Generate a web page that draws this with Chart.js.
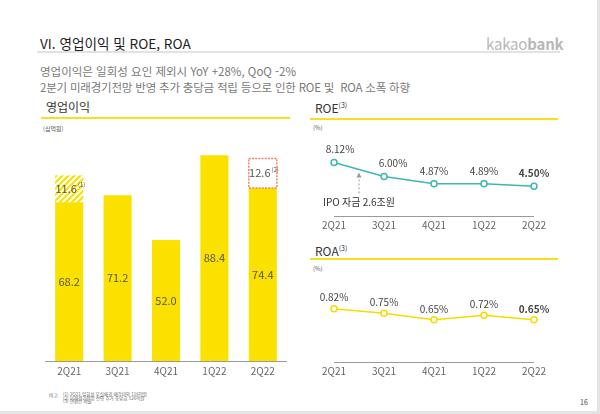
<!DOCTYPE html>
<html lang="ko">
<head>
<meta charset="utf-8">
<script src="https://cdn.jsdelivr.net/npm/chart.js@4"></script>
<style>
  body { margin: 0; background: #fff; font-family: "Noto Sans CJK KR", "Noto Sans", sans-serif; }
  #page { position: relative; width: 597px; height: 411px; border-right: 3px solid #e4e4e4; border-bottom: 3px solid #e4e4e4; overflow: hidden; }
  .abs { position: absolute; white-space: nowrap; }
  .title { left: 40px; top: 33px; font-size: 13.6px; color: #222; }
  .brand { left: 486px; top: 33px; font-size: 15px; color: #b8b8b8; letter-spacing: -0.2px; }
  .rule { position: absolute; height: 2px; }
  .sub { left: 40px; font-size: 11.5px; color: #7a7a7a; }
  .head { font-size: 12px; color: #333; }
  .head sup { font-size: 7px; }
  .unit { font-size: 6px; color: #555; }
  .box { position: absolute; }
  .box canvas { display: block; }
  .note { font-size: 4.5px; color: #666; line-height: 3.6px; }
</style>
</head>
<body>
<div id="page">
  <div class="abs title">VI. 영업이익 및 ROE, ROA</div>
  <div class="abs brand">kakao<b>bank</b></div>
  <div class="rule" style="left:37px; top:51px; width:523px; background:#e2e2e2;"></div>
  <div class="abs sub" style="top:63px;">영업이익은 일회성 요인 제외시 YoY +28%, QoQ -2%</div>
  <div class="abs sub" style="top:79px; letter-spacing:-0.2px;">2분기 미래경기전망 반영 추가 충당금 적립 등으로 인한 ROE 및&nbsp; ROA 소폭 하향</div>

  <div class="abs head" style="left:46px; top:98px;">영업이익</div>
  <div class="rule" style="left:41px; top:117px; width:249px; background:#f7df1e;"></div>
  <div class="abs unit" style="left:43px; top:124px;">(십억원)</div>
  <div class="box" style="left:45px; top:130px; width:242px; height:250px;"><canvas id="barChart"></canvas></div>

  <div class="abs head" style="left:315px; top:99px;">ROE<sup>(3)</sup></div>
  <div class="rule" style="left:310px; top:118px; width:248px; background:#f7df1e;"></div>
  <div class="abs unit" style="left:313px; top:123px;">(%)</div>
  <div class="box" style="left:319px; top:140px; width:230px; height:95px;"><canvas id="roeChart"></canvas></div>

  <div class="abs head" style="left:315px; top:242px;">ROA<sup>(3)</sup></div>
  <div class="rule" style="left:310px; top:258px; width:248px; background:#f7df1e;"></div>
  <div class="abs unit" style="left:313px; top:264px;">(%)</div>
  <div class="box" style="left:319px; top:274px; width:230px; height:107px;"><canvas id="roaChart"></canvas></div>

  <div class="abs note" style="left:49px; top:394px;">비고:</div>
  <div class="abs note" style="left:63px; top:393px;">(1) 2Q21 일회성 부실채권 매각이익 116억원<br>(2) 미래경기전망 반영 추가 충당금 126억원<br>(3) 연환산 비율</div>
  <div class="abs" style="left:580px; top:397px; font-size:7px; color:#444;">16</div>
</div>

<script>
const quarters = ["2Q21", "3Q21", "4Q21", "1Q22", "2Q22"];
const opIncome = [68.2, 71.2, 52.0, 88.4, 74.4];
const oneOff = [11.6, null, null, null, 12.6];
const oneOffNotes = ["(1)", null, null, null, "(2)"];
const roe = [8.12, 6.00, 4.87, 4.89, 4.50];
const roa = [0.82, 0.75, 0.65, 0.72, 0.65];

const YELLOW = "#fae100";
const FONT = '"Noto Sans CJK KR", "Noto Sans", sans-serif';

Chart.defaults.font.family = FONT;
Chart.defaults.animation = false;

function hatch() {
  const c = document.createElement("canvas");
  c.width = 6;
  c.height = 6;
  const g = c.getContext("2d");
  g.fillStyle = YELLOW;
  g.fillRect(0, 0, 6, 6);
  g.strokeStyle = "#fff";
  g.lineWidth = 2;
  g.beginPath();
  g.moveTo(0, 6); g.lineTo(6, 0);
  g.moveTo(-3, 3); g.lineTo(3, -3);
  g.moveTo(3, 9); g.lineTo(9, 3);
  g.stroke();
  return g.createPattern(c, "repeat");
}

// x axis: no ticks, grey baseline, fixed height
const xAxis = (pad) => ({
  grid: { display: false, drawTicks: false },
  border: { display: true, color: "#9a9a9a", width: 1 },
  ticks: { color: "#666", font: { size: 10 }, padding: pad },
  afterFit: (s) => { s.height = 19; },
});

// labels inside the bar segments
const barLabels = {
  id: "barLabels",
  afterDatasetsDraw(chart) {
    const ctx = chart.ctx;
    ctx.save();
    ctx.textAlign = "center";
    ctx.textBaseline = "middle";
    chart.data.datasets.forEach((ds, i) => {
      chart.getDatasetMeta(i).data.forEach((el, j) => {
        const v = ds.data[j];
        if (v == null) return;
        const cy = (el.y + el.base) / 2;
        if (i === 1 && j === 4) {
          ctx.save();
          ctx.strokeStyle = "#f08468";
          ctx.lineWidth = 1.5;
          ctx.setLineDash([2, 1.2]);
          ctx.strokeRect(el.x - el.width / 2, el.y, el.width, el.base - el.y);
          ctx.restore();
        }
        ctx.fillStyle = "#555";
        ctx.font = "11px " + FONT;
        const txt = v.toFixed(1);
        if (i === 1) {
          const w = ctx.measureText(txt).width;
          ctx.fillText(txt, el.x - 3, cy);
          ctx.font = "6px " + FONT;
          ctx.textAlign = "left";
          ctx.fillText(oneOffNotes[j], el.x - 3 + w / 2 + 1, cy - 4);
          ctx.textAlign = "center";
        } else {
          ctx.fillText(txt, el.x, cy);
        }
      });
    });
    ctx.restore();
  },
};

new Chart(document.getElementById("barChart"), {
  type: "bar",
  data: {
    labels: quarters,
    datasets: [
      { label: "영업이익", data: opIncome, backgroundColor: YELLOW },
      { label: "일회성", data: oneOff, backgroundColor: [hatch(), "#fff", "#fff", "#fff", "#fff"] },
    ],
  },
  options: {
    responsive: true,
    maintainAspectRatio: false,
    layout: { padding: { top: 10 } },
    datasets: { bar: { categoryPercentage: 1, barPercentage: 0.58 } },
    plugins: { legend: { display: false }, tooltip: { enabled: false } },
    scales: {
      x: { stacked: true, ...xAxis(4) },
      y: { stacked: true, display: false, min: 0, max: 95 },
    },
  },
  plugins: [barLabels],
});

// percentage labels above line points
const pointLabels = {
  id: "pointLabels",
  afterDatasetsDraw(chart, args, opts) {
    const ctx = chart.ctx;
    const vals = chart.data.datasets[0].data;
    ctx.save();
    ctx.textAlign = "center";
    ctx.textBaseline = "middle";
    ctx.fillStyle = "#444";
    chart.getDatasetMeta(0).data.forEach((el, j) => {
      ctx.font = (j === vals.length - 1 ? "bold " : "") + "10px " + FONT;
      const dx = opts.dx ? opts.dx[j] : 0;
      ctx.fillText(vals[j].toFixed(2) + "%", el.x + dx, el.y - opts.lift);
    });
    ctx.restore();
  },
};

// IPO note with dashed arrow between 2Q21 and 3Q21
const ipoNote = {
  id: "ipoNote",
  afterDatasetsDraw(chart) {
    const pts = chart.getDatasetMeta(0).data;
    const x = (pts[0].x + pts[1].x) / 2;
    const tip = (pts[0].y + pts[1].y) / 2 + 3;
    const bottom = tip + 21;
    const ctx = chart.ctx;
    ctx.save();
    ctx.strokeStyle = "#999";
    ctx.lineWidth = 1;
    ctx.setLineDash([2, 2]);
    ctx.beginPath();
    ctx.moveTo(x, bottom);
    ctx.lineTo(x, tip + 3);
    ctx.stroke();
    ctx.setLineDash([]);
    ctx.fillStyle = "#999";
    ctx.beginPath();
    ctx.moveTo(x, tip);
    ctx.lineTo(x - 2.5, tip + 5);
    ctx.lineTo(x + 2.5, tip + 5);
    ctx.closePath();
    ctx.fill();
    ctx.fillStyle = "#333";
    ctx.font = "10px " + FONT;
    ctx.textAlign = "center";
    ctx.textBaseline = "middle";
    ctx.fillText("IPO 자금 2.6조원", x, bottom + 9);
    ctx.restore();
  },
};

function lineChart(id, values, color, max, pad, labelOpts, extra) {
  return new Chart(document.getElementById(id), {
    type: "line",
    data: {
      labels: quarters,
      datasets: [{
        data: values,
        borderColor: color,
        borderWidth: 1.5,
        pointRadius: 3,
        pointBorderWidth: 1.5,
        pointBackgroundColor: "#fff",
        pointBorderColor: color,
        tension: 0,
      }],
    },
    options: {
      responsive: true,
      maintainAspectRatio: false,
      layout: { padding: { top: 10 } },
      plugins: { legend: { display: false }, tooltip: { enabled: false }, pointLabels: labelOpts },
      scales: {
        x: xAxis(pad),
        y: { display: false, min: 0, max: max },
      },
    },
    plugins: [pointLabels].concat(extra),
  });
}

lineChart("roeChart", roe, "#3cb7b1", 10, 3, { lift: 13, dx: [6, 9, 0, 0, 0] }, [ipoNote]);
lineChart("roaChart", roa, "#f4dc00", 1.2, 3, { lift: 11 }, []);
</script>
</body>
</html>
